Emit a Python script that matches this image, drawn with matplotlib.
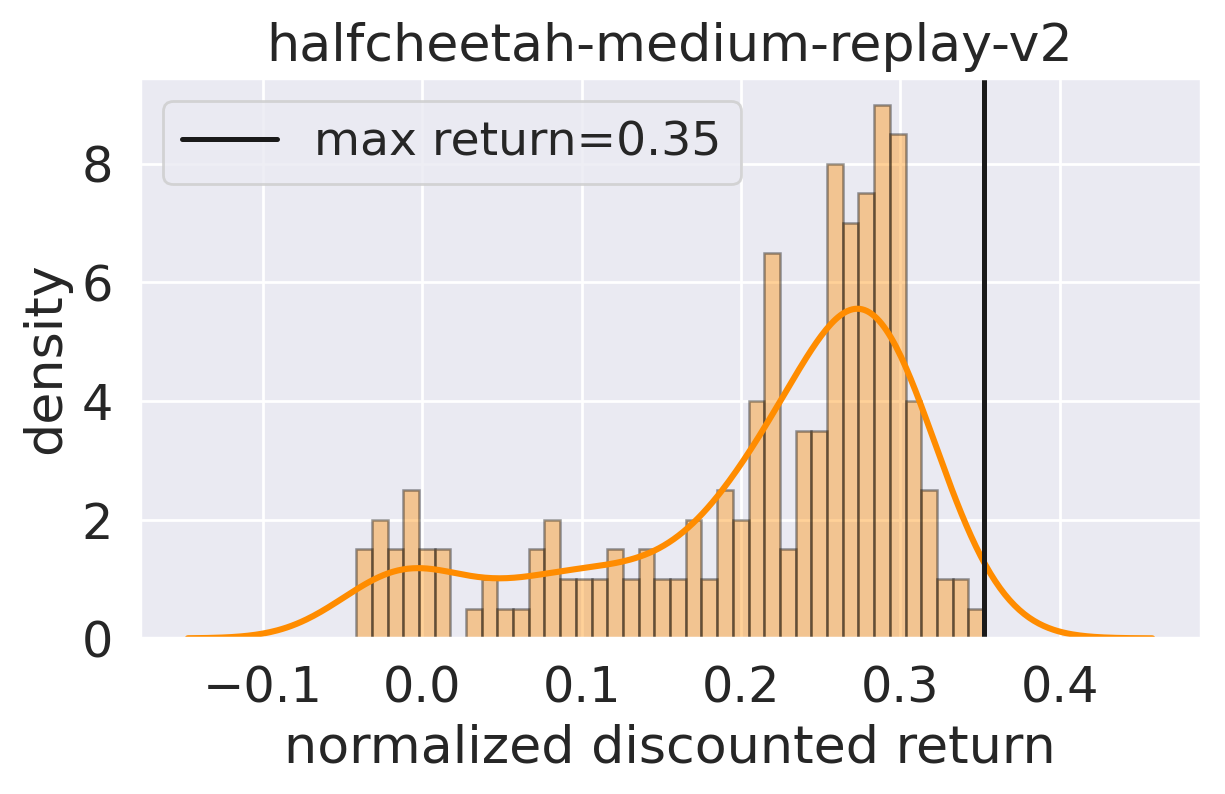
import numpy as np
import matplotlib
matplotlib.use("Agg")
import matplotlib.pyplot as plt
import seaborn as sns

sns.set_theme(style="darkgrid")
plt.rcParams['font.family'] = ['DejaVu Sans']

# density of each of the 40 bins
bin_density = [1.5, 2.0, 1.5, 2.5, 1.5, 1.5, 0.0, 0.5, 1.0, 0.5,
               0.5, 1.5, 2.0, 1.0, 1.0, 1.0, 1.5, 1.0, 1.5, 1.0,
               1.0, 2.0, 1.0, 2.5, 2.0, 4.0, 6.5, 1.5, 3.5, 3.5,
               8.0, 7.0, 7.5, 9.0, 8.5, 4.0, 2.5, 1.0, 1.0, 0.5]
ret_min = -0.0415
ret_max = 0.3525
max_return_label = "max return=0.35"
title = "halfcheetah-medium-replay-v2"

n_bins = len(bin_density)
edges = np.linspace(ret_min, ret_max, n_bins + 1)
centers = 0.5 * (edges[:-1] + edges[1:])
weights = np.array(bin_density)

# gaussian kde over the binned data (scott bandwidth)
w = weights / weights.sum()
mean = np.sum(w * centers)
std = np.sqrt(np.sum(w * (centers - mean) ** 2))
n_eff = weights.sum() * (edges[1] - edges[0]) * 200
bw = std * n_eff ** (-1 / 5)
grid = np.linspace(ret_min - 3 * bw, ret_max + 3 * bw, 400)
kde = np.sum(w[None, :] * np.exp(-0.5 * ((grid[:, None] - centers[None, :]) / bw) ** 2), axis=1) / (bw * np.sqrt(2 * np.pi))

fig, ax = plt.subplots(figsize=(6.125, 3.97), dpi=200)
ax.hist(centers, bins=edges, weights=weights, color="darkorange", alpha=0.4,
        edgecolor="black", linewidth=0.9)
ax.plot(grid, kde, color="darkorange", linewidth=2.2)
ax.axvline(ret_max, color="k", linewidth=1.8, label=max_return_label)

ax.set_xlabel("normalized discounted return", fontsize=18.8)
ax.set_ylabel("density", fontsize=18.8)
ax.set_title(title, fontsize=18.8)
ax.tick_params(labelsize=17.8)
ax.legend(loc="upper left", fontsize=17)

plt.subplots_adjust(left=0.114, right=0.98, top=0.902, bottom=0.196)
plt.savefig("out.png")
